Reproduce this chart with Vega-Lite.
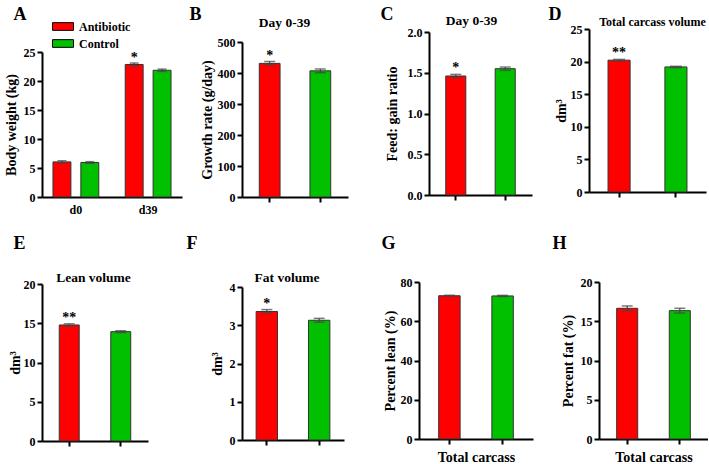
{
  "$schema": "https://vega.github.io/schema/vega-lite/v6.json",
  "padding": {"left": 4, "top": 5, "right": 0, "bottom": 0},
  "background": "white",
  "datasets": {
    "A": [
      {"day": "d0", "group": "Antibiotic", "mean": 6.05, "lo": 5.85, "hi": 6.25, "sig": ""},
      {"day": "d0", "group": "Control", "mean": 5.95, "lo": 5.8, "hi": 6.1, "sig": ""},
      {"day": "d39", "group": "Antibiotic", "mean": 22.85, "lo": 22.6, "hi": 23.1, "sig": "*"},
      {"day": "d39", "group": "Control", "mean": 21.85, "lo": 21.65, "hi": 22.05, "sig": ""}
    ],
    "B": [
      {"group": "Antibiotic", "mean": 431, "lo": 425, "hi": 437, "sig": "*"},
      {"group": "Control", "mean": 407, "lo": 401, "hi": 413, "sig": ""}
    ],
    "C": [
      {"group": "Antibiotic", "mean": 1.46, "lo": 1.44, "hi": 1.48, "sig": "*"},
      {"group": "Control", "mean": 1.55, "lo": 1.53, "hi": 1.57, "sig": ""}
    ],
    "D": [
      {"group": "Antibiotic", "mean": 20.22, "lo": 20.1, "hi": 20.34, "sig": "**"},
      {"group": "Control", "mean": 19.18, "lo": 19.08, "hi": 19.28, "sig": ""}
    ],
    "E": [
      {"group": "Antibiotic", "mean": 14.78, "lo": 14.63, "hi": 14.93, "sig": "**"},
      {"group": "Control", "mean": 13.93, "lo": 13.81, "hi": 14.05, "sig": ""}
    ],
    "F": [
      {"group": "Antibiotic", "mean": 3.36, "lo": 3.31, "hi": 3.41, "sig": "*"},
      {"group": "Control", "mean": 3.13, "lo": 3.08, "hi": 3.18, "sig": ""}
    ],
    "G": [
      {"group": "Antibiotic", "mean": 73.0, "lo": 72.7, "hi": 73.3, "sig": ""},
      {"group": "Control", "mean": 72.9, "lo": 72.6, "hi": 73.2, "sig": ""}
    ],
    "H": [
      {"group": "Antibiotic", "mean": 16.65, "lo": 16.35, "hi": 16.95, "sig": ""},
      {"group": "Control", "mean": 16.35, "lo": 16.05, "hi": 16.65, "sig": ""}
    ]
  },
  "columns": 4,
  "bounds": "flush",
  "spacing": {"row": 85, "column": 0},
  "resolve": {"scale": {"color": "independent"}, "legend": {"color": "independent"}},
  "concat": [
    {
      "data": {"name": "A"},
      "width": 200, "height": 168,
      "layer": [
        {
          "mark": {"type": "bar", "stroke": "#333", "strokeWidth": 1},
          "encoding": {
            "x": {"field": "day", "type": "nominal", "sort": ["d0", "d39"], "scale": {"range": [0, 140], "paddingInner": 0.366, "paddingOuter": 0.152}, "axis": {"orient": "bottom", "ticks": false, "title": null, "labelPadding": 7}},
            "xOffset": {"field": "group", "type": "nominal", "sort": ["Antibiotic", "Control"], "scale": {"paddingInner": 0.357, "paddingOuter": 0}},
            "y": {"field": "mean", "type": "quantitative", "scale": {"domain": [0, 25], "range": [168, 23], "nice": false}, "axis": {"values": [0, 5, 10, 15, 20, 25], "title": "Body weight (kg)", "titlePadding": 5}},
            "color": {"field": "group", "type": "nominal", "scale": {"domain": ["Antibiotic", "Control"], "range": ["#ff0000", "#00c000"]},
              "legend": {"orient": "none", "legendX": 13.5, "legendY": -10, "title": null, "symbolType": "M-1.5,-0.55H1.5V0.55H-1.5Z", "symbolSize": 196, "symbolStrokeColor": "#000", "symbolStrokeWidth": 1, "symbolOpacity": 1, "labelFont": "Liberation Serif, Times New Roman, Times, serif", "labelFontWeight": "bold", "labelFontSize": 12, "labelColor": "#000", "labelOffset": 8.5, "rowPadding": 3, "padding": 0}}
          }
        },
        {
          "mark": {"type": "rule", "color": "#444", "strokeWidth": 1.2},
          "encoding": {
            "x": {"field": "day", "type": "nominal", "sort": ["d0", "d39"], "scale": {"range": [0, 140], "paddingInner": 0.366, "paddingOuter": 0.152}, "axis": null},
            "xOffset": {"field": "group", "type": "nominal", "sort": ["Antibiotic", "Control"], "scale": {"paddingInner": 0.357, "paddingOuter": 0}},
            "y": {"field": "lo", "type": "quantitative", "scale": {"domain": [0, 25], "range": [168, 23], "nice": false}, "axis": {"values": [0, 5, 10, 15, 20, 25], "title": "Body weight (kg)", "titlePadding": 5}},
            "y2": {"field": "hi"}
          }
        },
        {
          "mark": {"type": "tick", "color": "#444", "thickness": 1.5, "size": 9},
          "encoding": {
            "x": {"field": "day", "type": "nominal", "sort": ["d0", "d39"], "scale": {"range": [0, 140], "paddingInner": 0.366, "paddingOuter": 0.152}, "axis": null},
            "xOffset": {"field": "group", "type": "nominal", "sort": ["Antibiotic", "Control"], "scale": {"paddingInner": 0.357, "paddingOuter": 0}},
            "y": {"field": "hi", "type": "quantitative", "scale": {"domain": [0, 25], "range": [168, 23], "nice": false}, "axis": {"values": [0, 5, 10, 15, 20, 25], "title": "Body weight (kg)", "titlePadding": 5}}
          }
        },
        {
          "mark": {"type": "tick", "color": "#444", "thickness": 1.5, "size": 9},
          "encoding": {
            "x": {"field": "day", "type": "nominal", "sort": ["d0", "d39"], "scale": {"range": [0, 140], "paddingInner": 0.366, "paddingOuter": 0.152},
              "axis": {"orient": "top", "domain": false, "ticks": false, "labels": false, "title": "A", "titleX": -29, "titleY": -9.5, "titleAlign": "left", "titleBaseline": "alphabetic", "titleFontSize": 18, "titleAngle": 0}},
            "xOffset": {"field": "group", "type": "nominal", "sort": ["Antibiotic", "Control"], "scale": {"paddingInner": 0.357, "paddingOuter": 0}},
            "y": {"field": "lo", "type": "quantitative", "scale": {"domain": [0, 25], "range": [168, 23], "nice": false}, "axis": {"values": [0, 5, 10, 15, 20, 25], "title": "Body weight (kg)", "titlePadding": 5}}
          }
        },
        {
          "mark": {"type": "text", "fontSize": 14, "fontWeight": "bold", "font": "Liberation Serif, Times New Roman, Times, serif", "baseline": "alphabetic", "dy": -1, "color": "#000"},
          "encoding": {
            "x": {"field": "day", "type": "nominal", "sort": ["d0", "d39"], "scale": {"range": [0, 140], "paddingInner": 0.366, "paddingOuter": 0.152}, "axis": null},
            "xOffset": {"field": "group", "type": "nominal", "sort": ["Antibiotic", "Control"], "scale": {"paddingInner": 0.357, "paddingOuter": 0}},
            "y": {"field": "hi", "type": "quantitative", "scale": {"domain": [0, 25], "range": [168, 23], "nice": false}, "axis": {"values": [0, 5, 10, 15, 20, 25], "title": "Body weight (kg)", "titlePadding": 5}},
            "text": {"field": "sig"}
          }
        }
      ],
      "resolve": {"axis": {"x": "independent"}}
    },
    {
      "data": {"name": "B"},
      "width": 177, "height": 168,
      "layer": [
        {
          "mark": {"type": "bar", "stroke": "#333", "strokeWidth": 1},
          "encoding": {
            "x": {"field": "group", "type": "nominal", "sort": ["Antibiotic", "Control"], "scale": {"range": [0, 106], "paddingInner": 0.59, "paddingOuter": 0.341}, "axis": {"orient": "bottom", "labels": false, "title": null}},
            "y": {"field": "mean", "type": "quantitative", "scale": {"domain": [0, 500], "range": [168, 13], "nice": false}, "axis": {"values": [0, 100, 200, 300, 400, 500], "title": "Growth rate (g/day)", "titlePadding": 3}},
            "color": {"field": "group", "type": "nominal", "scale": {"domain": ["Antibiotic", "Control"], "range": ["#ff0000", "#00c000"]}, "legend": null}
          }
        },
        {
          "mark": {"type": "rule", "color": "#444", "strokeWidth": 1.2},
          "encoding": {
            "x": {"field": "group", "type": "nominal", "sort": ["Antibiotic", "Control"], "scale": {"range": [0, 106], "paddingInner": 0.59, "paddingOuter": 0.341}, "axis": null},
            "y": {"field": "lo", "type": "quantitative", "scale": {"domain": [0, 500], "range": [168, 13], "nice": false}, "axis": {"values": [0, 100, 200, 300, 400, 500], "title": "Growth rate (g/day)", "titlePadding": 3}},
            "y2": {"field": "hi"}
          }
        },
        {
          "mark": {"type": "tick", "color": "#444", "thickness": 1.5, "size": 11},
          "encoding": {
            "x": {"field": "group", "type": "nominal", "sort": ["Antibiotic", "Control"], "scale": {"range": [0, 106], "paddingInner": 0.59, "paddingOuter": 0.341}, "axis": null},
            "y": {"field": "hi", "type": "quantitative", "scale": {"domain": [0, 500], "range": [168, 13], "nice": false}, "axis": {"values": [0, 100, 200, 300, 400, 500], "title": "Growth rate (g/day)", "titlePadding": 3}}
          }
        },
        {
          "mark": {"type": "tick", "color": "#444", "thickness": 1.5, "size": 11},
          "encoding": {
            "x": {"field": "group", "type": "nominal", "sort": ["Antibiotic", "Control"], "scale": {"range": [0, 106], "paddingInner": 0.59, "paddingOuter": 0.341},
              "axis": {"orient": "top", "domain": false, "ticks": false, "labels": false, "title": "B", "titleX": -53, "titleY": -9.5, "titleAlign": "left", "titleBaseline": "alphabetic", "titleFontSize": 18, "titleAngle": 0}},
            "y": {"field": "lo", "type": "quantitative", "scale": {"domain": [0, 500], "range": [168, 13], "nice": false}, "axis": {"values": [0, 100, 200, 300, 400, 500], "title": "Growth rate (g/day)", "titlePadding": 3}}
          }
        },
        {
          "mark": {"type": "text", "fontSize": 14, "fontWeight": "bold", "font": "Liberation Serif, Times New Roman, Times, serif", "baseline": "alphabetic", "dy": -2, "color": "#000"},
          "encoding": {
            "x": {"field": "group", "type": "nominal", "sort": ["Antibiotic", "Control"], "scale": {"range": [0, 106], "paddingInner": 0.59, "paddingOuter": 0.341},
              "axis": {"orient": "top", "domain": false, "ticks": false, "labels": false, "title": "Day 0-39", "titleX": 42, "titleY": -7, "titleAlign": "center", "titleBaseline": "middle", "titleFontSize": 13.5, "titleAngle": 0}},
            "y": {"field": "hi", "type": "quantitative", "scale": {"domain": [0, 500], "range": [168, 13], "nice": false}, "axis": {"values": [0, 100, 200, 300, 400, 500], "title": "Growth rate (g/day)", "titlePadding": 3}},
            "text": {"field": "sig"}
          }
        }
      ],
      "resolve": {"axis": {"x": "independent"}}
    },
    {
      "data": {"name": "C"},
      "width": 170, "height": 166,
      "layer": [
        {
          "mark": {"type": "bar", "stroke": "#333", "strokeWidth": 1},
          "encoding": {
            "x": {"field": "group", "type": "nominal", "sort": ["Antibiotic", "Control"], "scale": {"range": [10, 113], "paddingInner": 0.594, "paddingOuter": 0.339}, "axis": {"orient": "bottom", "labels": false, "title": null}},
            "y": {"field": "mean", "type": "quantitative", "scale": {"domain": [0, 2], "range": [166, 3], "nice": false}, "axis": {"values": [0, 0.5, 1, 1.5, 2], "format": ".1f", "title": "Feed: gain ratio", "titlePadding": 8, "offset": -10}},
            "color": {"field": "group", "type": "nominal", "scale": {"domain": ["Antibiotic", "Control"], "range": ["#ff0000", "#00c000"]}, "legend": null}
          }
        },
        {
          "mark": {"type": "rule", "color": "#444", "strokeWidth": 1.2},
          "encoding": {
            "x": {"field": "group", "type": "nominal", "sort": ["Antibiotic", "Control"], "scale": {"range": [10, 113], "paddingInner": 0.594, "paddingOuter": 0.339}, "axis": null},
            "y": {"field": "lo", "type": "quantitative", "scale": {"domain": [0, 2], "range": [166, 3], "nice": false}, "axis": {"values": [0, 0.5, 1, 1.5, 2], "format": ".1f", "title": "Feed: gain ratio", "titlePadding": 8, "offset": -10}},
            "y2": {"field": "hi"}
          }
        },
        {
          "mark": {"type": "tick", "color": "#444", "thickness": 1.5, "size": 11},
          "encoding": {
            "x": {"field": "group", "type": "nominal", "sort": ["Antibiotic", "Control"], "scale": {"range": [10, 113], "paddingInner": 0.594, "paddingOuter": 0.339}, "axis": null},
            "y": {"field": "hi", "type": "quantitative", "scale": {"domain": [0, 2], "range": [166, 3], "nice": false}, "axis": {"values": [0, 0.5, 1, 1.5, 2], "format": ".1f", "title": "Feed: gain ratio", "titlePadding": 8, "offset": -10}}
          }
        },
        {
          "mark": {"type": "tick", "color": "#444", "thickness": 1.5, "size": 11},
          "encoding": {
            "x": {"field": "group", "type": "nominal", "sort": ["Antibiotic", "Control"], "scale": {"range": [10, 113], "paddingInner": 0.594, "paddingOuter": 0.339},
              "axis": {"orient": "top", "domain": false, "ticks": false, "labels": false, "title": "C", "titleX": -39, "titleY": -9.5, "titleAlign": "left", "titleBaseline": "alphabetic", "titleFontSize": 18, "titleAngle": 0}},
            "y": {"field": "lo", "type": "quantitative", "scale": {"domain": [0, 2], "range": [166, 3], "nice": false}, "axis": {"values": [0, 0.5, 1, 1.5, 2], "format": ".1f", "title": "Feed: gain ratio", "titlePadding": 8, "offset": -10}}
          }
        },
        {
          "mark": {"type": "text", "fontSize": 14, "fontWeight": "bold", "font": "Liberation Serif, Times New Roman, Times, serif", "baseline": "alphabetic", "dy": -2, "color": "#000"},
          "encoding": {
            "x": {"field": "group", "type": "nominal", "sort": ["Antibiotic", "Control"], "scale": {"range": [10, 113], "paddingInner": 0.594, "paddingOuter": 0.339},
              "axis": {"orient": "top", "domain": false, "ticks": false, "labels": false, "title": "Day 0-39", "titleX": 52, "titleY": -9, "titleAlign": "center", "titleBaseline": "middle", "titleFontSize": 13.5, "titleAngle": 0}},
            "y": {"field": "hi", "type": "quantitative", "scale": {"domain": [0, 2], "range": [166, 3], "nice": false}, "axis": {"values": [0, 0.5, 1, 1.5, 2], "format": ".1f", "title": "Feed: gain ratio", "titlePadding": 8, "offset": -10}},
            "text": {"field": "sig"}
          }
        }
      ],
      "resolve": {"axis": {"x": "independent"}}
    },
    {
      "data": {"name": "D"},
      "width": 119, "height": 163,
      "layer": [
        {
          "mark": {"type": "bar", "stroke": "#333", "strokeWidth": 1},
          "encoding": {
            "x": {"field": "group", "type": "nominal", "sort": ["Antibiotic", "Control"], "scale": {"range": [0, 117], "paddingInner": 0.612, "paddingOuter": 0.335}, "axis": {"orient": "bottom", "labels": false, "title": null}},
            "y": {"field": "mean", "type": "quantitative", "scale": {"domain": [0, 25], "range": [163, 0], "nice": false}, "axis": {"values": [0, 5, 10, 15, 20, 25], "title": "dm³", "titlePadding": 1.5}},
            "color": {"field": "group", "type": "nominal", "scale": {"domain": ["Antibiotic", "Control"], "range": ["#ff0000", "#00c000"]}, "legend": null}
          }
        },
        {
          "mark": {"type": "rule", "color": "#444", "strokeWidth": 1.2},
          "encoding": {
            "x": {"field": "group", "type": "nominal", "sort": ["Antibiotic", "Control"], "scale": {"range": [0, 117], "paddingInner": 0.612, "paddingOuter": 0.335}, "axis": null},
            "y": {"field": "lo", "type": "quantitative", "scale": {"domain": [0, 25], "range": [163, 0], "nice": false}, "axis": {"values": [0, 5, 10, 15, 20, 25], "title": "dm³", "titlePadding": 1.5}},
            "y2": {"field": "hi"}
          }
        },
        {
          "mark": {"type": "tick", "color": "#444", "thickness": 1.5, "size": 12},
          "encoding": {
            "x": {"field": "group", "type": "nominal", "sort": ["Antibiotic", "Control"], "scale": {"range": [0, 117], "paddingInner": 0.612, "paddingOuter": 0.335}, "axis": null},
            "y": {"field": "hi", "type": "quantitative", "scale": {"domain": [0, 25], "range": [163, 0], "nice": false}, "axis": {"values": [0, 5, 10, 15, 20, 25], "title": "dm³", "titlePadding": 1.5}}
          }
        },
        {
          "mark": {"type": "tick", "color": "#444", "thickness": 1.5, "size": 12},
          "encoding": {
            "x": {"field": "group", "type": "nominal", "sort": ["Antibiotic", "Control"], "scale": {"range": [0, 117], "paddingInner": 0.612, "paddingOuter": 0.335},
              "axis": {"orient": "top", "domain": false, "ticks": false, "labels": false, "title": "D", "titleX": -41, "titleY": -9.5, "titleAlign": "left", "titleBaseline": "alphabetic", "titleFontSize": 18, "titleAngle": 0}},
            "y": {"field": "lo", "type": "quantitative", "scale": {"domain": [0, 25], "range": [163, 0], "nice": false}, "axis": {"values": [0, 5, 10, 15, 20, 25], "title": "dm³", "titlePadding": 1.5}}
          }
        },
        {
          "mark": {"type": "text", "fontSize": 14, "fontWeight": "bold", "font": "Liberation Serif, Times New Roman, Times, serif", "baseline": "alphabetic", "dy": -2, "color": "#000"},
          "encoding": {
            "x": {"field": "group", "type": "nominal", "sort": ["Antibiotic", "Control"], "scale": {"range": [0, 117], "paddingInner": 0.612, "paddingOuter": 0.335},
              "axis": {"orient": "top", "domain": false, "ticks": false, "labels": false, "title": "Total carcass volume", "titleX": 63, "titleY": -8, "titleAlign": "center", "titleBaseline": "middle", "titleFontSize": 12, "titleAngle": 0}},
            "y": {"field": "hi", "type": "quantitative", "scale": {"domain": [0, 25], "range": [163, 0], "nice": false}, "axis": {"values": [0, 5, 10, 15, 20, 25], "title": "dm³", "titlePadding": 1.5}},
            "text": {"field": "sig"}
          }
        }
      ],
      "resolve": {"axis": {"x": "independent"}}
    },
    {
      "data": {"name": "E"},
      "width": 200, "height": 159,
      "layer": [
        {
          "mark": {"type": "bar", "stroke": "#333", "strokeWidth": 1},
          "encoding": {
            "x": {"field": "group", "type": "nominal", "sort": ["Antibiotic", "Control"], "scale": {"range": [0, 106], "paddingInner": 0.613, "paddingOuter": 0.335}, "axis": {"orient": "bottom", "labels": false, "title": null}},
            "y": {"field": "mean", "type": "quantitative", "scale": {"domain": [0, 20], "range": [159, 2], "nice": false}, "axis": {"values": [0, 5, 10, 15, 20], "title": "dm³", "titlePadding": 0.5}},
            "color": {"field": "group", "type": "nominal", "scale": {"domain": ["Antibiotic", "Control"], "range": ["#ff0000", "#00c000"]}, "legend": null}
          }
        },
        {
          "mark": {"type": "rule", "color": "#444", "strokeWidth": 1.2},
          "encoding": {
            "x": {"field": "group", "type": "nominal", "sort": ["Antibiotic", "Control"], "scale": {"range": [0, 106], "paddingInner": 0.613, "paddingOuter": 0.335}, "axis": null},
            "y": {"field": "lo", "type": "quantitative", "scale": {"domain": [0, 20], "range": [159, 2], "nice": false}, "axis": {"values": [0, 5, 10, 15, 20], "title": "dm³", "titlePadding": 0.5}},
            "y2": {"field": "hi"}
          }
        },
        {
          "mark": {"type": "tick", "color": "#444", "thickness": 1.5, "size": 11},
          "encoding": {
            "x": {"field": "group", "type": "nominal", "sort": ["Antibiotic", "Control"], "scale": {"range": [0, 106], "paddingInner": 0.613, "paddingOuter": 0.335}, "axis": null},
            "y": {"field": "hi", "type": "quantitative", "scale": {"domain": [0, 20], "range": [159, 2], "nice": false}, "axis": {"values": [0, 5, 10, 15, 20], "title": "dm³", "titlePadding": 0.5}}
          }
        },
        {
          "mark": {"type": "tick", "color": "#444", "thickness": 1.5, "size": 11},
          "encoding": {
            "x": {"field": "group", "type": "nominal", "sort": ["Antibiotic", "Control"], "scale": {"range": [0, 106], "paddingInner": 0.613, "paddingOuter": 0.335},
              "axis": {"orient": "top", "domain": false, "ticks": false, "labels": false, "title": "E", "titleX": -29, "titleY": -34, "titleAlign": "left", "titleBaseline": "alphabetic", "titleFontSize": 18, "titleAngle": 0}},
            "y": {"field": "lo", "type": "quantitative", "scale": {"domain": [0, 20], "range": [159, 2], "nice": false}, "axis": {"values": [0, 5, 10, 15, 20], "title": "dm³", "titlePadding": 0.5}}
          }
        },
        {
          "mark": {"type": "text", "fontSize": 14, "fontWeight": "bold", "font": "Liberation Serif, Times New Roman, Times, serif", "baseline": "alphabetic", "dy": -2, "color": "#000"},
          "encoding": {
            "x": {"field": "group", "type": "nominal", "sort": ["Antibiotic", "Control"], "scale": {"range": [0, 106], "paddingInner": 0.613, "paddingOuter": 0.335},
              "axis": {"orient": "top", "domain": false, "ticks": false, "labels": false, "title": "Lean volume", "titleX": 51, "titleY": -5, "titleAlign": "center", "titleBaseline": "middle", "titleFontSize": 13.5, "titleAngle": 0}},
            "y": {"field": "hi", "type": "quantitative", "scale": {"domain": [0, 20], "range": [159, 2], "nice": false}, "axis": {"values": [0, 5, 10, 15, 20], "title": "dm³", "titlePadding": 0.5}},
            "text": {"field": "sig"}
          }
        }
      ],
      "resolve": {"axis": {"x": "independent"}}
    },
    {
      "data": {"name": "F"},
      "width": 177, "height": 158,
      "layer": [
        {
          "mark": {"type": "bar", "stroke": "#333", "strokeWidth": 1},
          "encoding": {
            "x": {"field": "group", "type": "nominal", "sort": ["Antibiotic", "Control"], "scale": {"range": [0, 102], "paddingInner": 0.592, "paddingOuter": 0.27}, "axis": {"orient": "bottom", "labels": false, "title": null}},
            "y": {"field": "mean", "type": "quantitative", "scale": {"domain": [0, 4], "range": [158, 5], "nice": false}, "axis": {"values": [0, 1, 2, 3, 4], "title": "dm³", "titlePadding": 5}},
            "color": {"field": "group", "type": "nominal", "scale": {"domain": ["Antibiotic", "Control"], "range": ["#ff0000", "#00c000"]}, "legend": null}
          }
        },
        {
          "mark": {"type": "rule", "color": "#444", "strokeWidth": 1.2},
          "encoding": {
            "x": {"field": "group", "type": "nominal", "sort": ["Antibiotic", "Control"], "scale": {"range": [0, 102], "paddingInner": 0.592, "paddingOuter": 0.27}, "axis": null},
            "y": {"field": "lo", "type": "quantitative", "scale": {"domain": [0, 4], "range": [158, 5], "nice": false}, "axis": {"values": [0, 1, 2, 3, 4], "title": "dm³", "titlePadding": 5}},
            "y2": {"field": "hi"}
          }
        },
        {
          "mark": {"type": "tick", "color": "#444", "thickness": 1.5, "size": 11},
          "encoding": {
            "x": {"field": "group", "type": "nominal", "sort": ["Antibiotic", "Control"], "scale": {"range": [0, 102], "paddingInner": 0.592, "paddingOuter": 0.27}, "axis": null},
            "y": {"field": "hi", "type": "quantitative", "scale": {"domain": [0, 4], "range": [158, 5], "nice": false}, "axis": {"values": [0, 1, 2, 3, 4], "title": "dm³", "titlePadding": 5}}
          }
        },
        {
          "mark": {"type": "tick", "color": "#444", "thickness": 1.5, "size": 11},
          "encoding": {
            "x": {"field": "group", "type": "nominal", "sort": ["Antibiotic", "Control"], "scale": {"range": [0, 102], "paddingInner": 0.592, "paddingOuter": 0.27},
              "axis": {"orient": "top", "domain": false, "ticks": false, "labels": false, "title": "F", "titleX": -56, "titleY": -34, "titleAlign": "left", "titleBaseline": "alphabetic", "titleFontSize": 18, "titleAngle": 0}},
            "y": {"field": "lo", "type": "quantitative", "scale": {"domain": [0, 4], "range": [158, 5], "nice": false}, "axis": {"values": [0, 1, 2, 3, 4], "title": "dm³", "titlePadding": 5}}
          }
        },
        {
          "mark": {"type": "text", "fontSize": 14, "fontWeight": "bold", "font": "Liberation Serif, Times New Roman, Times, serif", "baseline": "alphabetic", "dy": -2, "color": "#000"},
          "encoding": {
            "x": {"field": "group", "type": "nominal", "sort": ["Antibiotic", "Control"], "scale": {"range": [0, 102], "paddingInner": 0.592, "paddingOuter": 0.27},
              "axis": {"orient": "top", "domain": false, "ticks": false, "labels": false, "title": "Fat volume", "titleX": 44.5, "titleY": -4.5, "titleAlign": "center", "titleBaseline": "middle", "titleFontSize": 13.5, "titleAngle": 0}},
            "y": {"field": "hi", "type": "quantitative", "scale": {"domain": [0, 4], "range": [158, 5], "nice": false}, "axis": {"values": [0, 1, 2, 3, 4], "title": "dm³", "titlePadding": 5}},
            "text": {"field": "sig"}
          }
        }
      ],
      "resolve": {"axis": {"x": "independent"}}
    },
    {
      "data": {"name": "G"},
      "width": 170, "height": 157,
      "layer": [
        {
          "mark": {"type": "bar", "stroke": "#333", "strokeWidth": 1},
          "encoding": {
            "x": {"field": "group", "type": "nominal", "sort": ["Antibiotic", "Control"], "scale": {"range": [0, 114], "paddingInner": 0.597, "paddingOuter": 0.37}, "axis": {"orient": "bottom", "labels": false, "title": "Total carcass", "titleFontSize": 14, "titlePadding": 5}},
            "y": {"field": "mean", "type": "quantitative", "scale": {"domain": [0, 80], "range": [157, 0], "nice": false}, "axis": {"values": [0, 20, 40, 60, 80], "title": "Percent lean (%)", "titlePadding": 2.5}},
            "color": {"field": "group", "type": "nominal", "scale": {"domain": ["Antibiotic", "Control"], "range": ["#ff0000", "#00c000"]}, "legend": null}
          }
        },
        {
          "mark": {"type": "rule", "color": "#444", "strokeWidth": 1.2},
          "encoding": {
            "x": {"field": "group", "type": "nominal", "sort": ["Antibiotic", "Control"], "scale": {"range": [0, 114], "paddingInner": 0.597, "paddingOuter": 0.37}, "axis": null},
            "y": {"field": "lo", "type": "quantitative", "scale": {"domain": [0, 80], "range": [157, 0], "nice": false}, "axis": {"values": [0, 20, 40, 60, 80], "title": "Percent lean (%)", "titlePadding": 2.5}},
            "y2": {"field": "hi"}
          }
        },
        {
          "mark": {"type": "tick", "color": "#444", "thickness": 1.5, "size": 11},
          "encoding": {
            "x": {"field": "group", "type": "nominal", "sort": ["Antibiotic", "Control"], "scale": {"range": [0, 114], "paddingInner": 0.597, "paddingOuter": 0.37}, "axis": null},
            "y": {"field": "hi", "type": "quantitative", "scale": {"domain": [0, 80], "range": [157, 0], "nice": false}, "axis": {"values": [0, 20, 40, 60, 80], "title": "Percent lean (%)", "titlePadding": 2.5}}
          }
        },
        {
          "mark": {"type": "tick", "color": "#444", "thickness": 1.5, "size": 11},
          "encoding": {
            "x": {"field": "group", "type": "nominal", "sort": ["Antibiotic", "Control"], "scale": {"range": [0, 114], "paddingInner": 0.597, "paddingOuter": 0.37},
              "axis": {"orient": "top", "domain": false, "ticks": false, "labels": false, "title": "G", "titleX": -38, "titleY": -34, "titleAlign": "left", "titleBaseline": "alphabetic", "titleFontSize": 18, "titleAngle": 0}},
            "y": {"field": "lo", "type": "quantitative", "scale": {"domain": [0, 80], "range": [157, 0], "nice": false}, "axis": {"values": [0, 20, 40, 60, 80], "title": "Percent lean (%)", "titlePadding": 2.5}}
          }
        }
      ],
      "resolve": {"axis": {"x": "independent"}}
    },
    {
      "data": {"name": "H"},
      "width": 119, "height": 157,
      "layer": [
        {
          "mark": {"type": "bar", "stroke": "#333", "strokeWidth": 1},
          "encoding": {
            "x": {"field": "group", "type": "nominal", "sort": ["Antibiotic", "Control"], "scale": {"range": [10, 119], "paddingInner": 0.6, "paddingOuter": 0.336}, "axis": {"orient": "bottom", "labels": false, "title": "Total carcass", "titleFontSize": 14, "titlePadding": 5}},
            "y": {"field": "mean", "type": "quantitative", "scale": {"domain": [0, 20], "range": [157, 0], "nice": false}, "axis": {"values": [0, 5, 10, 15, 20], "title": "Percent fat (%)", "titlePadding": 4.5, "offset": -10}},
            "color": {"field": "group", "type": "nominal", "scale": {"domain": ["Antibiotic", "Control"], "range": ["#ff0000", "#00c000"]}, "legend": null}
          }
        },
        {
          "mark": {"type": "rule", "color": "#444", "strokeWidth": 1.2},
          "encoding": {
            "x": {"field": "group", "type": "nominal", "sort": ["Antibiotic", "Control"], "scale": {"range": [10, 119], "paddingInner": 0.6, "paddingOuter": 0.336}, "axis": null},
            "y": {"field": "lo", "type": "quantitative", "scale": {"domain": [0, 20], "range": [157, 0], "nice": false}, "axis": {"values": [0, 5, 10, 15, 20], "title": "Percent fat (%)", "titlePadding": 4.5, "offset": -10}},
            "y2": {"field": "hi"}
          }
        },
        {
          "mark": {"type": "tick", "color": "#444", "thickness": 1.5, "size": 11},
          "encoding": {
            "x": {"field": "group", "type": "nominal", "sort": ["Antibiotic", "Control"], "scale": {"range": [10, 119], "paddingInner": 0.6, "paddingOuter": 0.336}, "axis": null},
            "y": {"field": "hi", "type": "quantitative", "scale": {"domain": [0, 20], "range": [157, 0], "nice": false}, "axis": {"values": [0, 5, 10, 15, 20], "title": "Percent fat (%)", "titlePadding": 4.5, "offset": -10}}
          }
        },
        {
          "mark": {"type": "tick", "color": "#444", "thickness": 1.5, "size": 11},
          "encoding": {
            "x": {"field": "group", "type": "nominal", "sort": ["Antibiotic", "Control"], "scale": {"range": [10, 119], "paddingInner": 0.6, "paddingOuter": 0.336},
              "axis": {"orient": "top", "domain": false, "ticks": false, "labels": false, "title": "H", "titleX": -37, "titleY": -34, "titleAlign": "left", "titleBaseline": "alphabetic", "titleFontSize": 18, "titleAngle": 0}},
            "y": {"field": "lo", "type": "quantitative", "scale": {"domain": [0, 20], "range": [157, 0], "nice": false}, "axis": {"values": [0, 5, 10, 15, 20], "title": "Percent fat (%)", "titlePadding": 4.5, "offset": -10}}
          }
        }
      ],
      "resolve": {"axis": {"x": "independent"}}
    }
  ],
  "config": {
    "view": {"stroke": null},
    "font": "Liberation Serif, Times New Roman, Times, serif",
    "axis": {
      "grid": false,
      "domainColor": "#000", "domainWidth": 2,
      "tickColor": "#000", "tickWidth": 2, "tickSize": 5,
      "labelFont": "Liberation Serif, Times New Roman, Times, serif", "labelFontWeight": "bold", "labelFontSize": 12, "labelColor": "#000", "labelPadding": 2,
      "titleFont": "Liberation Serif, Times New Roman, Times, serif", "titleFontWeight": "bold", "titleFontSize": 13, "titleColor": "#000"
    },
    "axisY": {"titleFontSize": 14},
    "axisX": {"labelAngle": 0}
  }
}
